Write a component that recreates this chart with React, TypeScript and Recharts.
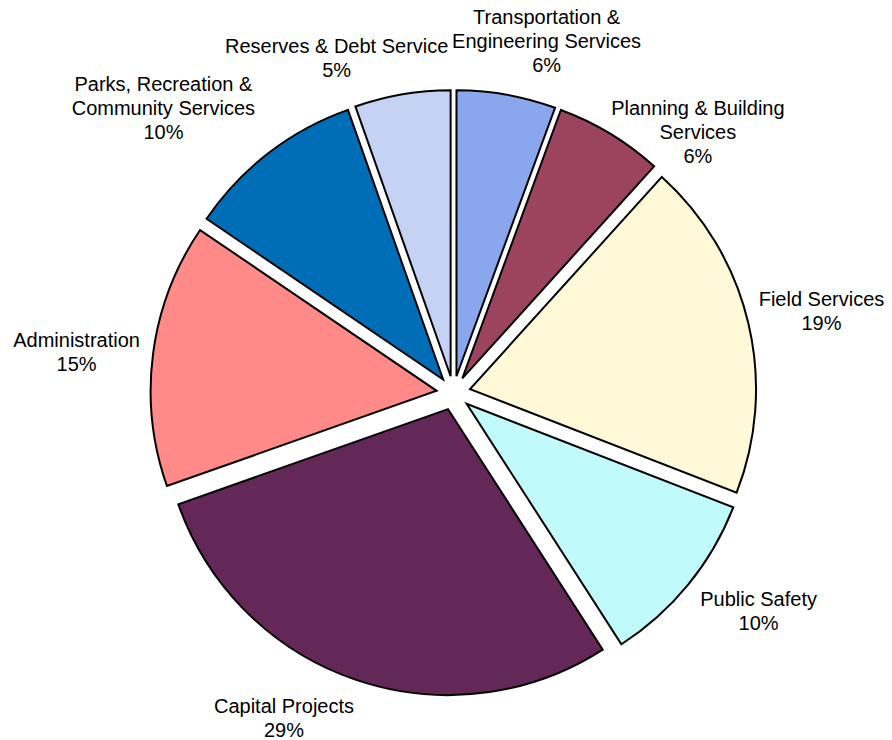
import { PieChart, Pie, Cell, Sector, Tooltip } from "recharts";

// slices go clockwise from 12 o'clock
const categories = [
  "Transportation &\nEngineering Services",
  "Planning & Building\nServices",
  "Field Services",
  "Public Safety",
  "Capital Projects",
  "Administration",
  "Parks, Recreation &\nCommunity Services",
  "Reserves & Debt Service",
];
const shares = [5.6, 6.1, 19.2, 10.0, 28.7, 14.9, 10.1, 5.4];
const colors = [
  "#8AA6EC",
  "#9C445F",
  "#FFF9D8",
  "#C1FAFB",
  "#632858",
  "#FF8A88",
  "#006EB6",
  "#C6D2F4",
];

// label tweaks (dx, dy) away from the spot on each slice's bisector
const labelNudge = [
  [28, 14],
  [52, 57],
  [6, 4],
  [17, -17],
  [-49, -27],
  [-8, 7],
  [-63, 10],
  [-54, 32],
];

const RAD = Math.PI / 180;
const EXPLODE = 17;

const data = categories.map((name, i) => ({ name, value: shares[i] }));

function ExplodedSlice(props: any) {
  const { cx, cy, midAngle } = props;
  const ox = EXPLODE * Math.cos(-midAngle * RAD);
  const oy = EXPLODE * Math.sin(-midAngle * RAD);
  return <Sector {...props} cx={cx + ox} cy={cy + oy} />;
}

function renderLabel(props: any) {
  const { cx, cy, midAngle, outerRadius, percent, index } = props;
  const r = outerRadius + EXPLODE + 69;
  const x = cx + r * Math.cos(-midAngle * RAD) + labelNudge[index][0];
  const yc = cy + r * Math.sin(-midAngle * RAD) + labelNudge[index][1];
  const lines = [...categories[index].split("\n"), `${Math.round(percent * 100)}%`];
  const y0 = yc + 7 - (lines.length - 1) * 12;
  return (
    <text
      x={x}
      y={y0}
      textAnchor="middle"
      fontSize={20}
      fontFamily="'Liberation Sans', Arial, sans-serif"
      fill="#000"
    >
      {lines.map((l, k) => (
        <tspan key={k} x={x} y={y0 + k * 24}>
          {l}
        </tspan>
      ))}
    </text>
  );
}

function App() {
  return (
    <div style={{ position: "absolute", left: 0, top: 0, background: "#fff" }}>
      <PieChart width={892} height={740}>
        <Pie
          data={data}
          dataKey="value"
          nameKey="name"
          cx={448.5}
          cy={388}
          outerRadius={286}
          startAngle={90}
          endAngle={-270}
          stroke="#000"
          strokeWidth={2}
          labelLine={false}
          label={renderLabel}
          shape={ExplodedSlice}
          activeShape={ExplodedSlice}
          inactiveShape={ExplodedSlice}
          isAnimationActive={false}
        >
          {data.map((d, i) => (
            <Cell key={d.name} fill={colors[i]} />
          ))}
        </Pie>
        <Tooltip defaultIndex={0} content={() => null} />
      </PieChart>
    </div>
  );
}

export default App;
